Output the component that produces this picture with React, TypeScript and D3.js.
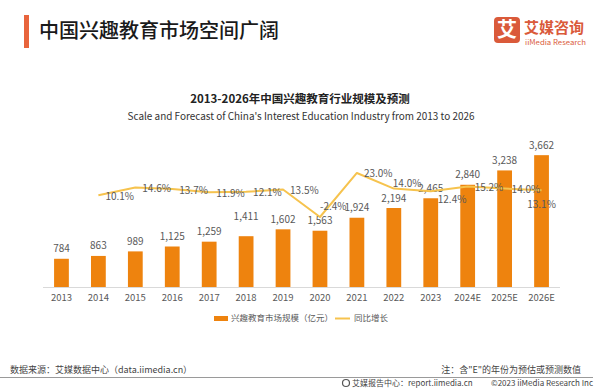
import React from "react";
import * as d3 from "d3";

const categories = ["2013", "2014", "2015", "2016", "2017", "2018", "2019", "2020", "2021", "2022", "2023", "2024E", "2025E", "2026E"];
const marketSize = [784, 863, 989, 1125, 1259, 1411, 1602, 1563, 1924, 2194, 2465, 2840, 3238, 3662];
const growthCats = ["2014", "2015", "2016", "2017", "2018", "2019", "2020", "2021", "2022", "2023", "2024E", "2025E", "2026E"];
const growthRate = [10.1, 14.6, 13.7, 11.9, 12.1, 13.5, -2.4, 23.0, 14.0, 12.4, 15.2, 14.0, 13.1];

const FONT = "'Noto Sans CJK SC', 'Noto Sans', sans-serif";
const BAR = "#EE830E";
const LINE = "#F6C34E";
const GRAY = "#595959";

// label placement tweaks (style only)
const growthLabelOffset: Record<string, [number, number, string]> = {
  "2020": [0, -10, "start"],
  "2022": [-1, -5, "start"],
  "2023": [7, 8, "start"],
  "2026E": [0, 14, "middle"],
};
const barLabelExtra: Record<string, number> = { "2018": -10 };

export default function App() {
  const W = 600, H = 390;
  const x = d3.scaleBand<string>().domain(categories).range([43, 560]).paddingInner(0.6).paddingOuter(0.3);
  const y = d3.scaleLinear().domain([0, 4000]).range([287, 143]);
  const yp = d3.scaleLinear().domain([-5, 25]).range([221.5, 169.5]);
  const cx = (c: string) => (x(c) as number) + x.bandwidth() / 2;

  const line = d3
    .line<number>()
    .x((_, i) => cx(growthCats[i]))
    .y((d) => yp(d));

  return (
    <svg width={W} height={H} style={{ position: "absolute", left: 0, top: 0, background: "#fff" }} fontFamily={FONT}>
      <rect x={0} y={0} width={W} height={H} fill="#fff" />
      {/* header */}
      <rect x={24} y={15} width={5} height={33} fill="#E8643C" />
      <text x={39} y={38} fontSize={20} fontWeight={500} fill="#1a1a1a">中国兴趣教育市场空间广阔</text>
      <rect x={494} y={17} width={26} height={26} rx={4} fill="#DA5A3A" />
      <text x={507} y={37} fontSize={20} fontWeight="bold" fill="#fff" textAnchor="middle">艾</text>
      <text x={524} y={33} fontSize={15} fontWeight="bold" fill="#DA5A3A">艾媒咨询</text>
      <text x={525} y={44.5} fontSize={7} fill="#DA5A3A" textLength={61} lengthAdjust="spacingAndGlyphs">iiMedia Research</text>

      {/* chart titles */}
      <text x={300} y={103} fontSize={11.5} fontWeight="bold" fill="#222" textAnchor="middle">2013-2026年中国兴趣教育行业规模及预测</text>
      <text x={301} y={120} fontSize={10.5} fill="#333" textAnchor="middle" textLength={347} lengthAdjust="spacingAndGlyphs">
        Scale and Forecast of China's Interest Education Industry from 2013 to 2026
      </text>

      {/* bars */}
      {categories.map((c, i) => (
        <g key={c}>
          <rect x={x(c)} y={y(marketSize[i])} width={x.bandwidth()} height={y(0) - y(marketSize[i])} fill={BAR} />
          <text
            x={cx(c)}
            y={y(marketSize[i]) - 10 + (barLabelExtra[c] || 0)}
            dy="0.35em"
            fontSize={10}
            fill={GRAY}
            textAnchor="middle"
          >
            {d3.format(",")(marketSize[i])}
          </text>
          <text x={cx(c)} y={298} dy="0.35em" fontSize={9.5} fill={GRAY} textAnchor="middle">{c}</text>
        </g>
      ))}
      <line x1={43} x2={560} y1={287.5} y2={287.5} stroke="#D9D9D9" strokeWidth={1} />

      {/* growth line */}
      <path d={line(growthRate) || ""} fill="none" stroke={LINE} strokeWidth={2} strokeLinejoin="round" />
      {growthCats.map((c, i) => {
        const off = growthLabelOffset[c] || [7, 1, "start"];
        return (
          <text
            key={c}
            x={cx(c) + off[0]}
            y={yp(growthRate[i]) + off[1]}
            dy="0.35em"
            fontSize={10}
            fill={GRAY}
            textAnchor={off[2]}
          >
            {growthRate[i].toFixed(1)}%
          </text>
        );
      })}

      {/* legend */}
      <rect x={214} y={316} width={14} height={5} fill={BAR} />
      <text x={231} y={318.5} dy="0.35em" fontSize={8.5} fill={GRAY}>兴趣教育市场规模（亿元）</text>
      <line x1={335} x2={350} y1={318.5} y2={318.5} stroke={LINE} strokeWidth={2} />
      <text x={354} y={318.5} dy="0.35em" fontSize={8.5} fill={GRAY}>同比增长</text>

      {/* footer */}
      <text x={10} y={370} dy="0.35em" fontSize={9} fill="#444">数据来源：艾媒数据中心（data.iimedia.cn）</text>
      <text x={581} y={370} dy="0.35em" fontSize={9} fill="#444" textAnchor="end">注：含"E"的年份为预估或预测数值</text>
      <line x1={0} x2={593} y1={377.5} y2={377.5} stroke="#9a9a9a" strokeWidth={1} />
      <circle cx={346} cy={383} r={3.5} fill="none" stroke="#555" strokeWidth={1.2} />
      <text x={352} y={383.5} dy="0.35em" fontSize={8} fill="#444">艾媒报告中心：report.iimedia.cn</text>
      <text x={593} y={383.5} dy="0.35em" fontSize={8} fill="#444" textAnchor="end">©2023  iiMedia Research  Inc</text>
    </svg>
  );
}
